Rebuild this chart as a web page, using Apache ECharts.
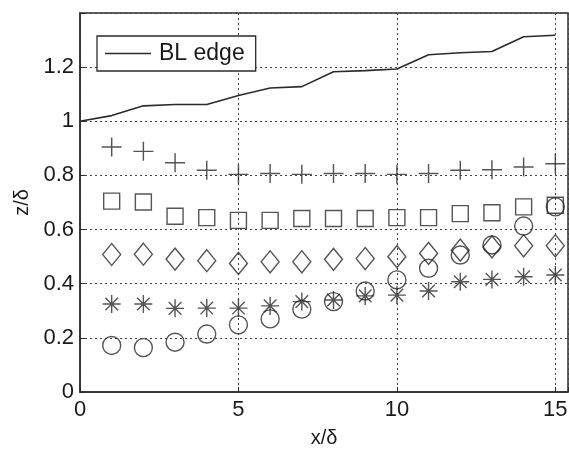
<!DOCTYPE html>
<html>
<head>
<meta charset="utf-8">
<script src="https://cdn.jsdelivr.net/npm/echarts@6/dist/echarts.min.js"></script>
<style>
html,body{margin:0;padding:0;background:#fff;}
#chart{width:569px;height:451px;}
</style>
</head>
<body>
<div id="chart"></div>
<script>
var xPos = [1,2,3,4,5,6,7,8,9,10,11,12,13,14,15];
var blX = [0,1,2,3,4,5,6,7,8,9,10,11,12,13,14,15];
var blEdge = [1.0,1.021,1.057,1.062,1.062,1.095,1.123,1.128,1.183,1.187,1.193,1.246,1.253,1.258,1.312,1.318];
var plusVals = [0.905,0.889,0.847,0.819,0.804,0.807,0.804,0.807,0.807,0.804,0.807,0.819,0.821,0.831,0.843];
var squareVals = [0.705,0.702,0.649,0.644,0.634,0.634,0.641,0.641,0.641,0.644,0.644,0.659,0.662,0.684,0.690];
var diamondVals = [0.508,0.509,0.491,0.485,0.475,0.481,0.481,0.490,0.493,0.500,0.512,0.524,0.536,0.540,0.540];
var starVals = [0.325,0.325,0.309,0.310,0.310,0.318,0.334,0.340,0.355,0.358,0.373,0.407,0.416,0.426,0.432];
var circleVals = [0.172,0.164,0.184,0.214,0.248,0.270,0.306,0.334,0.373,0.414,0.457,0.506,0.543,0.613,0.684];
var xTicks = [0,5,10,15];
var yTicks = [0,0.2,0.4,0.6,0.8,1,1.2];
var legendName = 'BL edge';

function pairs(xs, ys){ return ys.map(function(v,i){ return [xs[i], v]; }); }

var ink = '#2b2b2b';
var chart = echarts.init(document.getElementById('chart'));
function scatter(name, vals, symbol, size){
  return {
    name: name, type: 'scatter', data: pairs(xPos, vals),
    symbol: symbol, symbolSize: size,
    itemStyle: {color: 'rgba(0,0,0,0)', borderColor: ink, borderWidth: 1.4},
    emphasis: {disabled: true}, z: 3
  };
}
chart.setOption({
  animation: false,
  backgroundColor: '#fff',
  textStyle: {fontFamily: 'Liberation Sans, Arial, sans-serif'},
  grid: {left: 80, right: 1, top: 13, bottom: 59, containLabel: false, outerBoundsMode: 'none',
         show: true, borderColor: ink, borderWidth: 1.5, backgroundColor: 'transparent'},
  legend: {
    data: [{name: legendName, icon: 'rect'}],
    left: 97, top: 36, padding: [6, 11, 6, 8],
    itemWidth: 46, itemHeight: 1.5, itemGap: 6,
    borderColor: ink, borderWidth: 1.3, backgroundColor: '#fff',
    textStyle: {fontSize: 23, color: '#1a1a1a', fontFamily: 'Liberation Sans, Arial, sans-serif', padding: [0, 0, 0, 3]},
    selectedMode: false
  },
  xAxis: {
    type: 'value', min: 0, max: 15.4, interval: 5,
    name: 'x/δ', nameLocation: 'middle', nameGap: 36, nameMoveOverlap: false,
    nameTextStyle: {fontSize: 20, color: '#1a1a1a'},
    axisLine: {show: true, lineStyle: {color: ink, width: 1.5}},
    axisTick: {show: true, inside: true, length: 5, lineStyle: {color: ink}},
    axisLabel: {fontSize: 22, color: '#1a1a1a', margin: 7,
      formatter: function(v){ return xTicks.indexOf(v) >= 0 ? String(v) : ''; }},
    splitLine: {show: true, lineStyle: {type: [2, 3], color: '#444', width: 1}}
  },
  yAxis: {
    type: 'value', min: 0, max: 1.4, interval: 0.2,
    name: 'z/δ', nameLocation: 'middle', nameGap: 48, nameMoveOverlap: false,
    nameTextStyle: {fontSize: 20, color: '#1a1a1a'},
    axisLine: {show: true, lineStyle: {color: ink, width: 1.5}},
    axisTick: {show: true, inside: true, length: 5, lineStyle: {color: ink}},
    axisLabel: {fontSize: 22, color: '#1a1a1a', margin: 6,
      formatter: function(v){ var r = Math.round(v*10)/10; return yTicks.indexOf(r) >= 0 ? String(r) : ''; }},
    splitLine: {show: true, lineStyle: {type: [2, 3], color: '#444', width: 1}}
  },
  series: [
    {name: legendName, type: 'line', data: pairs(blX, blEdge), showSymbol: false, symbol: 'none',
     lineStyle: {color: ink, width: 1.6}, itemStyle: {color: ink}, emphasis: {disabled: true}, z: 2},
    scatter('plus', plusVals, 'path://M0,10L20,10M10,0L10,20', [20, 19]),
    scatter('square', squareVals, 'rect', 16),
    scatter('diamond', diamondVals, 'diamond', [18, 22]),
    scatter('star', starVals, 'path://M0,10L20,10M10,0L10,20M3,3L17,17M3,17L17,3', 18),
    scatter('circle', circleVals, 'circle', 18)
  ]
});
</script>
</body>
</html>
